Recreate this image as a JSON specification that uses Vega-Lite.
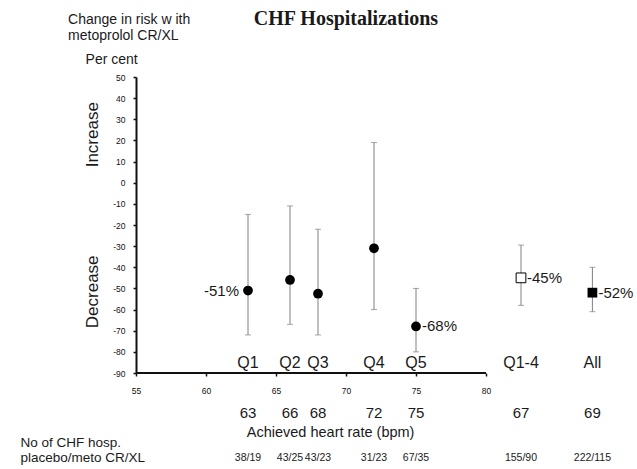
{
  "$schema": "https://vega.github.io/schema/vega-lite/v6.json",
  "autosize": {"type": "none"},
  "padding": {"left": 136, "top": 77, "right": 4, "bottom": 96},
  "width": 497,
  "height": 296,
  "background": "white",
  "config": {
    "view": {"stroke": null},
    "font": "Liberation Sans",
    "axis": {"labelOverlap": false, "labelFlush": false},
    "text": {"font": "Liberation Sans", "color": "#1a1a1a"}
  },
  "datasets": {
    "groups": [
      {"group": "Q1", "x": 63, "hr": 63, "est": -51, "lo": -72, "hi": -15, "n": "38/19", "kind": "quintile", "pct": "-51%", "side": "left"},
      {"group": "Q2", "x": 66, "hr": 66, "est": -46, "lo": -67, "hi": -11, "n": "43/25", "kind": "quintile", "pct": "", "side": "none"},
      {"group": "Q3", "x": 68, "hr": 68, "est": -52.5, "lo": -72, "hi": -22, "n": "43/23", "kind": "quintile", "pct": "", "side": "none"},
      {"group": "Q4", "x": 72, "hr": 72, "est": -31, "lo": -60, "hi": 19, "n": "31/23", "kind": "quintile", "pct": "", "side": "none"},
      {"group": "Q5", "x": 75, "hr": 75, "est": -68, "lo": -80, "hi": -50, "n": "67/35", "kind": "quintile", "pct": "-68%", "side": "right"},
      {"group": "Q1-4", "x": 82.5, "hr": 67, "est": -45, "lo": -58, "hi": -29.5, "n": "155/90", "kind": "pooled", "pct": "-45%", "side": "right"},
      {"group": "All", "x": 87.6, "hr": 69, "est": -52, "lo": -61, "hi": -40, "n": "222/115", "kind": "all", "pct": "-52%", "side": "right"}
    ],
    "one": [{}]
  },
  "data": {"name": "groups"},
  "layer": [
    {
      "mark": {"type": "rule", "color": "#808080", "strokeWidth": 1},
      "encoding": {
        "x": {"field": "x", "type": "quantitative", "scale": {"domain": [55, 90.5], "nice": false, "zero": false},
          "axis": {"values": [55, 60, 65, 70, 75, 80], "domain": false, "grid": false, "title": null, "tickSize": 3, "tickColor": "#111", "tickWidth": 1.5, "labelFontSize": 8.5, "labelColor": "#111", "labelPadding": 10}},
        "y": {"field": "lo", "type": "quantitative", "scale": {"domain": [-90, 50], "nice": false, "zero": false},
          "axis": {"tickCount": 14, "tickMinStep": 10, "labelExpr": "'' + datum.value", "labelOverlap": false, "grid": false, "title": null, "domainColor": "#111", "domainWidth": 2, "tickSize": 3, "tickColor": "#111", "tickWidth": 1.5, "labelFontSize": 8.5, "labelColor": "#111", "labelPadding": 8}},
        "y2": {"field": "hi"}
      }
    },
    {
      "mark": {"type": "tick", "orient": "horizontal", "color": "#808080", "size": 6, "thickness": 1},
      "encoding": {
        "x": {"field": "x", "type": "quantitative"},
        "y": {"field": "lo", "type": "quantitative"}
      }
    },
    {
      "mark": {"type": "tick", "orient": "horizontal", "color": "#808080", "size": 6, "thickness": 1},
      "encoding": {
        "x": {"field": "x", "type": "quantitative"},
        "y": {"field": "hi", "type": "quantitative"}
      }
    },
    {
      "data": {"name": "one"},
      "mark": {"type": "rule", "color": "#111", "strokeWidth": 2},
      "encoding": {
        "x": {"datum": 55},
        "x2": {"datum": 80},
        "y": {"datum": -90}
      }
    },
    {
      "transform": [{"filter": "datum.kind == 'quintile'"}],
      "mark": {"type": "point", "shape": "circle", "filled": true, "color": "#000", "size": 95, "opacity": 1},
      "encoding": {
        "x": {"field": "x", "type": "quantitative"},
        "y": {"field": "est", "type": "quantitative"}
      }
    },
    {
      "transform": [{"filter": "datum.kind == 'pooled'"}],
      "mark": {"type": "point", "shape": "square", "filled": true, "fill": "white", "stroke": "#000", "strokeWidth": 1, "size": 95, "opacity": 1},
      "encoding": {
        "x": {"field": "x", "type": "quantitative"},
        "y": {"field": "est", "type": "quantitative"}
      }
    },
    {
      "transform": [{"filter": "datum.kind == 'all'"}],
      "mark": {"type": "point", "shape": "square", "filled": true, "color": "#000", "size": 95, "opacity": 1},
      "encoding": {
        "x": {"field": "x", "type": "quantitative"},
        "y": {"field": "est", "type": "quantitative"}
      }
    },
    {
      "transform": [{"filter": "datum.side == 'left'"}],
      "mark": {"type": "text", "align": "right", "baseline": "middle", "dx": -9, "fontSize": 15},
      "encoding": {
        "x": {"field": "x", "type": "quantitative"},
        "y": {"field": "est", "type": "quantitative"},
        "text": {"field": "pct"}
      }
    },
    {
      "transform": [{"filter": "datum.side == 'right'"}],
      "mark": {"type": "text", "align": "left", "baseline": "middle", "dx": 6, "fontSize": 15},
      "encoding": {
        "x": {"field": "x", "type": "quantitative"},
        "y": {"field": "est", "type": "quantitative"},
        "text": {"field": "pct"}
      }
    },
    {
      "mark": {"type": "text", "align": "center", "baseline": "middle", "fontSize": 16},
      "encoding": {
        "x": {"field": "x", "type": "quantitative"},
        "y": {"datum": -85.3},
        "text": {"field": "group"}
      }
    },
    {
      "mark": {"type": "text", "align": "center", "baseline": "middle", "fontSize": 15},
      "encoding": {
        "x": {"field": "x", "type": "quantitative"},
        "y": {"datum": -108.9},
        "text": {"field": "hr", "type": "quantitative"}
      }
    },
    {
      "mark": {"type": "text", "align": "center", "baseline": "middle", "fontSize": 10.5},
      "encoding": {
        "x": {"field": "x", "type": "quantitative"},
        "y": {"datum": -130.4},
        "text": {"field": "n"}
      }
    },
    {
      "data": {"name": "one"},
      "mark": {"type": "text", "align": "center", "baseline": "middle", "font": "Liberation Serif", "fontWeight": "bold", "fontSize": 20},
      "encoding": {"x": {"datum": 70}, "y": {"datum": 77.6}, "text": {"value": "CHF Hospitalizations"}}
    },
    {
      "data": {"name": "one"},
      "mark": {"type": "text", "align": "center", "baseline": "middle", "fontSize": 14.5},
      "encoding": {"x": {"datum": 68.9}, "y": {"datum": -118.4}, "text": {"value": "Achieved heart rate (bpm)"}}
    },
    {
      "data": {"name": "one"},
      "mark": {"type": "text", "align": "left", "baseline": "middle", "fontSize": 13.5},
      "encoding": {"x": {"datum": 46.75}, "y": {"datum": -123.1}, "text": {"value": "No of CHF hosp."}}
    },
    {
      "data": {"name": "one"},
      "mark": {"type": "text", "align": "left", "baseline": "middle", "fontSize": 13.5},
      "encoding": {"x": {"datum": 46.75}, "y": {"datum": -130.4}, "text": {"value": "placebo/meto CR/XL"}}
    },
    {
      "data": {"name": "one"},
      "mark": {"type": "text", "align": "left", "baseline": "middle", "fontSize": 14},
      "encoding": {"x": {"datum": 50.15}, "y": {"datum": 77.1}, "text": {"value": "Change in risk w ith"}}
    },
    {
      "data": {"name": "one"},
      "mark": {"type": "text", "align": "left", "baseline": "middle", "fontSize": 14},
      "encoding": {"x": {"datum": 50.15}, "y": {"datum": 69.5}, "text": {"value": "metoprolol CR/XL"}}
    },
    {
      "data": {"name": "one"},
      "mark": {"type": "text", "align": "left", "baseline": "middle", "fontSize": 14},
      "encoding": {"x": {"datum": 51.4}, "y": {"datum": 58.2}, "text": {"value": "Per cent"}}
    },
    {
      "data": {"name": "one"},
      "mark": {"type": "text", "align": "center", "baseline": "middle", "angle": 270, "fontSize": 17},
      "encoding": {"x": {"datum": 51.95}, "y": {"datum": 22.7}, "text": {"value": "Increase"}}
    },
    {
      "data": {"name": "one"},
      "mark": {"type": "text", "align": "center", "baseline": "middle", "angle": 270, "fontSize": 17},
      "encoding": {"x": {"datum": 51.95}, "y": {"datum": -51.6}, "text": {"value": "Decrease"}}
    }
  ]
}
